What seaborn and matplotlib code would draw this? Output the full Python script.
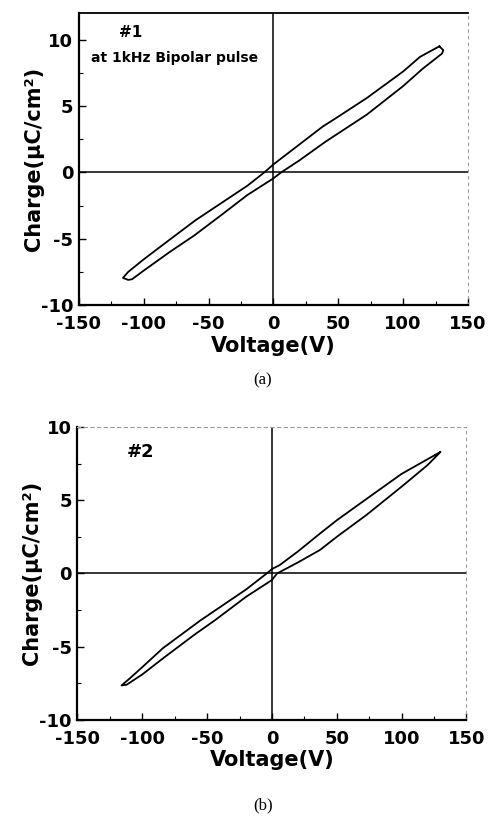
import matplotlib
matplotlib.use("Agg")
import matplotlib.pyplot as plt
from matplotlib.ticker import MultipleLocator
import seaborn as sns
import pandas as pd

# Hysteresis loop, sample #1 (voltage in V, charge in uC/cm^2), traced around the loop
volt_1 = [128, 113, 100, 72, 50, 38, 20, 0, -7, -20, -40, -60, -77, -100, -112, -116,
          -112, -109, -100, -80, -61, -40, -20, 0, 6, 20, 40, 72, 100, 115, 130, 131, 128]
charge_1 = [9.5, 8.7, 7.6, 5.6, 4.2, 3.45, 2.1, 0.6, 0.0, -1.0, -2.3, -3.6, -4.85, -6.55, -7.5, -7.95,
            -8.1, -8.05, -7.4, -6.0, -4.75, -3.2, -1.7, -0.45, 0.0, 0.9, 2.3, 4.35, 6.5, 7.8, 8.95, 9.2, 9.5]

# Hysteresis loop, sample #2
volt_2 = [126, 110, 100, 75, 50, 37, 20, 6, 0, -4, -20, -40, -55, -84, -100, -110, -116,
          -112, -100, -84, -60, -44, -20, 0, 4, 20, 37, 50, 73, 101, 120, 130, 126]
charge_2 = [8.1, 7.3, 6.8, 5.22, 3.63, 2.72, 1.5, 0.57, 0.3, 0.0, -1.1, -2.3, -3.2, -5.1, -6.4, -7.2, -7.65,
            -7.6, -6.9, -5.8, -4.2, -3.2, -1.6, -0.45, 0.0, 0.75, 1.6, 2.5, 4.0, 6.0, 7.4, 8.3, 8.1]

x_ticks = [-150, -100, -50, 0, 50, 100, 150]
y_ticks = [-10, -5, 0, 5, 10]

sns.set_style("white")
plt.rcParams.update({
    "font.family": ["DejaVu Sans"],
    "font.weight": "bold",
    "text.color": "black",
    "axes.labelcolor": "black",
    "xtick.color": "black",
    "ytick.color": "black",
    "xtick.direction": "in",
    "ytick.direction": "in",
    "axes.unicode_minus": False,
})

fig = plt.figure(figsize=(4.9, 8.18), dpi=100)
ax_a = fig.add_axes([0.161, 0.627, 0.794, 0.357])
ax_b = fig.add_axes([0.158, 0.120, 0.794, 0.358])


def style_axes(ax, ymax, top_solid):
    ax.set_xlim(-150, 150)
    ax.set_ylim(-10, ymax)
    ax.axhline(0, color="black", lw=1.1, zorder=1)
    ax.axvline(0, color="black", lw=1.1, zorder=1)
    ax.set_xticks(x_ticks)
    ax.set_yticks(y_ticks)
    ax.xaxis.set_minor_locator(MultipleLocator(25))
    ax.yaxis.set_minor_locator(MultipleLocator(2.5))
    ax.tick_params(axis="both", which="major", direction="in", length=5, width=1.0,
                   labelsize=13, bottom=True, left=True, top=False, right=False,
                   colors="black")
    ax.tick_params(axis="both", which="minor", direction="in", length=3, width=0.8,
                   bottom=True, left=True, top=False, right=False, colors="black")
    ax.tick_params(axis="x", pad=7)
    ax.tick_params(axis="y", pad=4)
    for lab in ax.get_xticklabels() + ax.get_yticklabels():
        lab.set_fontweight("bold")
    for side in ("left", "bottom"):
        ax.spines[side].set_color("black")
        ax.spines[side].set_linewidth(1.6)
    ax.spines["right"].set_color("#9a9a9a")
    ax.spines["right"].set_linewidth(0.8)
    ax.spines["right"].set_linestyle((0, (2, 4)))
    if top_solid:
        ax.spines["top"].set_color("black")
        ax.spines["top"].set_linewidth(1.3)
    else:
        ax.spines["top"].set_color("#9a9a9a")
        ax.spines["top"].set_linewidth(0.8)
        ax.spines["top"].set_linestyle((0, (3, 3)))
    ax.set_xlabel("Voltage(V)", fontsize=15, fontweight="bold", labelpad=2, color="black")
    ax.set_ylabel("Charge(\u03bcC/cm\u00b2)", fontsize=15, fontweight="bold", labelpad=-2,
                  color="black")


df_1 = pd.DataFrame({"Voltage": volt_1, "Charge": charge_1})
df_2 = pd.DataFrame({"Voltage": volt_2, "Charge": charge_2})

sns.lineplot(data=df_1, x="Voltage", y="Charge", sort=False, estimator=None,
             color="black", lw=1.3, ax=ax_a, zorder=3)
sns.lineplot(data=df_2, x="Voltage", y="Charge", sort=False, estimator=None,
             color="black", lw=1.3, ax=ax_b, zorder=3)

style_axes(ax_a, 12, True)
style_axes(ax_b, 10, False)

ax_a.text(-119, 10.55, "#1", fontsize=11, fontweight="bold", ha="left", va="center",
          color="black")
ax_a.text(-140.5, 8.65, "at 1kHz Bipolar pulse", fontsize=10, fontweight="bold",
          ha="left", va="center", color="black")
ax_b.text(-112, 8.27, "#2", fontsize=13, fontweight="bold", ha="left", va="center",
          color="black")

fig.text(263 / 490, 1 - 380 / 818, "(a)", fontsize=12, family="Liberation Serif",
         fontweight="normal", ha="center", va="center", color="black")
fig.text(263 / 490, 1 - 805 / 818, "(b)", fontsize=12, family="Liberation Serif",
         fontweight="normal", ha="center", va="center", color="black")

fig.savefig("out.png", dpi=100)
